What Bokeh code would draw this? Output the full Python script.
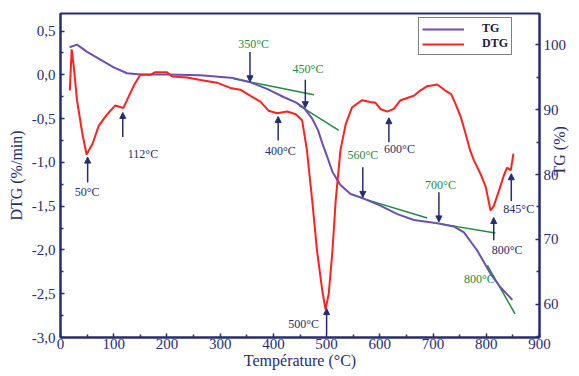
import math
from bokeh.plotting import figure
from bokeh.models import (Range1d, LinearAxis, FixedTicker, ColumnDataSource, Arrow,
                          NormalHead, Legend, LegendItem)
from bokeh.core.properties import value
from bokeh.embed import file_html
from bokeh.resources import INLINE

# ---------------- data ----------------
tg_temp = [17, 31, 50, 75, 100, 125, 150, 200, 263, 325, 357, 388, 420, 442, 457, 473,
           484, 492, 500, 511, 526, 545, 570, 601, 633, 664, 708, 739, 758, 783, 808, 827, 849]
tg_val = [99.6, 100.0, 98.9, 97.7, 96.5, 95.6, 95.4, 95.4, 95.3, 94.85, 94.2, 93.2, 91.9, 91.1,
          90.3, 88.6, 86.8, 84.8, 83.0, 80.4, 78.4, 77.0, 76.3, 75.2, 73.9, 73.0, 72.5, 72.0,
          71.1, 68.3, 64.7, 62.6, 60.7]

dtg_temp = [17.5, 21, 25, 31, 41, 49, 60, 72, 88, 103, 118, 128, 138, 150, 169, 178, 200, 210,
            238, 263, 294, 319, 338, 357, 376, 391, 407, 426, 442, 454, 463, 473, 482, 492, 498,
            504, 511, 517, 526, 536, 548, 567, 582, 592, 601, 614, 626, 639, 664, 676, 689, 708,
            723, 734, 742, 752, 761, 770, 777, 789, 799, 808, 814, 824, 833, 839, 846, 851]
dtg_val = [-0.18, 0.29, 0.09, -0.29, -0.67, -0.91, -0.79, -0.58, -0.45, -0.35, -0.38, -0.25,
           -0.12, 0.0, 0.0, 0.03, 0.03, -0.02, -0.03, -0.06, -0.09, -0.15, -0.17, -0.24, -0.31,
           -0.41, -0.44, -0.42, -0.45, -0.52, -0.86, -1.44, -2.01, -2.47, -2.68, -2.50, -2.01,
           -1.44, -0.86, -0.56, -0.37, -0.29, -0.31, -0.32, -0.39, -0.42, -0.39, -0.29, -0.24,
           -0.18, -0.13, -0.11, -0.18, -0.22, -0.33, -0.48, -0.67, -0.87, -0.98, -1.13, -1.28,
           -1.55, -1.50, -1.32, -1.15, -1.06, -1.09, -0.90]

# tangent lines on the TG curve (TG axis units)
tan_x0 = [325, 448, 564, 714, 802]
tan_x1 = [476, 523, 689, 817, 854]
tan_y0 = [94.76, 90.65, 76.4, 72.4, 66.0]
tan_y1 = [92.30, 86.8, 73.3, 71.0, 58.55]

# annotation labels (DTG axis units)
lab_text = ["50°C", "112°C", "350°C", "450°C", "400°C", "600°C", "560°C", "700°C",
            "800°C", "845°C", "800°C", "500°C"]
lab_x = [50, 155, 363, 465, 413, 637, 568, 714, 839, 861, 787, 457]
lab_y = [-1.34, -0.90, 0.356, 0.07, -0.865, -0.845, -0.92, -1.26, -2.0, -1.53, -2.33, -2.85]
lab_kind = ["dtg", "dtg", "tg", "tg", "dtg", "dtg", "tg", "tg", "dtg", "dtg", "tg", "dtg"]

# arrows (DTG axis units)
arr_x = [51, 117, 356, 460, 409, 617, 568, 711, 814, 847, 500]
arr_y0 = [-1.23, -0.71, 0.26, -0.056, -0.75, -0.77, -1.056, -1.34, -1.89, -1.44, -2.96]
arr_y1 = [-0.94, -0.43, -0.08, -0.376, -0.476, -0.49, -1.40, -1.68, -1.63, -1.13, -2.67]

x_ticks = [0, 100, 200, 300, 400, 500, 600, 700, 800, 900]
x_minor = [50, 150, 250, 350, 450, 550, 650, 750, 850]
y_ticks = [-3.0, -2.5, -2.0, -1.5, -1.0, -0.5, 0.0, 0.5]
y_labels = ["-3,0", "-2,5", "-2,0", "-1,5", "-1,0", "-0,5", "0,0", "0,5"]
y_minor = [-2.75, -2.25, -1.75, -1.25, -0.75, -0.25, 0.25]
tg_ticks = [60, 70, 80, 90, 100]
tg_minor = [55, 65, 75, 85, 95]

# ---------------- style ----------------
NAVY = "#262d6e"
PURPLE = "#6a50b0"
RED = "#ff2020"
GREEN = "#1e8a3c"
FONT = "Liberation Serif"

p = figure(width=579, height=376, output_backend="svg", toolbar_location=None,
           x_range=Range1d(0, 900), y_range=Range1d(-3.0, 0.7),
           min_border_left=60, min_border_right=40, min_border_top=13, min_border_bottom=39)
p.extra_y_ranges = {"tg": Range1d(54.9, 104.8)}
p.grid.visible = False
p.outline_line_color = NAVY
p.outline_line_width = 2
p.background_fill_color = "white"
p.border_fill_color = "white"

p.xaxis.ticker = FixedTicker(ticks=x_ticks, minor_ticks=x_minor)
p.xaxis.axis_label = "Température (°C)"
p.yaxis.ticker = FixedTicker(ticks=y_ticks, minor_ticks=y_minor)
p.yaxis.major_label_overrides = {t: l for t, l in zip(y_ticks, y_labels)}
p.yaxis.axis_label = "DTG (%/min)"

right = LinearAxis(y_range_name="tg", axis_label="TG (%)",
                   ticker=FixedTicker(ticks=tg_ticks, minor_ticks=tg_minor))
p.add_layout(right, "right")

for ax in [p.xaxis[0], p.yaxis[0], right]:
    ax.axis_line_color = NAVY
    ax.axis_line_width = 2
    ax.major_tick_line_color = NAVY
    ax.minor_tick_line_color = NAVY
    ax.major_tick_line_width = 1.5
    ax.minor_tick_line_width = 1.5
    ax.major_tick_in = 4
    ax.major_tick_out = 0
    ax.minor_tick_in = 3
    ax.minor_tick_out = 0
    ax.major_label_text_font = FONT
    ax.major_label_text_font_size = "15px"
    ax.major_label_text_color = NAVY
    ax.axis_label_text_font = FONT
    ax.axis_label_text_font_size = "16px"
    ax.axis_label_text_font_style = "normal"
    ax.axis_label_text_color = NAVY
p.xaxis.major_label_standoff = 1
p.xaxis.axis_label_standoff = 0
p.yaxis[0].major_label_standoff = 5
p.yaxis[0].axis_label_standoff = 4
right.major_label_standoff = 4
right.axis_label_standoff = -10
right.axis_label_orientation = math.pi / 2

# ---------------- glyphs ----------------
tg_src = ColumnDataSource(dict(x=tg_temp, y=tg_val))
dtg_src = ColumnDataSource(dict(x=dtg_temp, y=dtg_val))
tan_src = ColumnDataSource(dict(x0=tan_x0, x1=tan_x1, y0=tan_y0, y1=tan_y1))

p.segment(x0="x0", y0="y0", x1="x1", y1="y1", source=tan_src, y_range_name="tg",
          line_color=GREEN, line_width=1.5)
tg_r = p.line("x", "y", source=tg_src, y_range_name="tg", line_color=PURPLE, line_width=2)
dtg_r = p.line("x", "y", source=dtg_src, line_color=RED, line_width=2)

arr_src = ColumnDataSource(dict(x=arr_x, y0=arr_y0, y1=arr_y1))
p.add_layout(Arrow(x_start="x", y_start="y0", x_end="x", y_end="y1", source=arr_src,
                   line_color=NAVY, line_width=1.5,
                   end=NormalHead(size=6, fill_color=NAVY, line_color=NAVY, line_width=1)))

lab_col = [GREEN if k == "tg" else NAVY for k in lab_kind]
lab_src = ColumnDataSource(dict(x=lab_x, y=lab_y, t=lab_text, c=lab_col))
p.text(x="x", y="y", text="t", source=lab_src, text_color="c", text_align="center",
       text_baseline="middle", text_font=value(FONT), text_font_size="12px")

legend = Legend(items=[LegendItem(label="TG", renderers=[tg_r]),
                       LegendItem(label="DTG", renderers=[dtg_r])],
                location=(358, 282))
legend.label_text_font = FONT
legend.label_text_font_style = "bold"
legend.label_text_font_size = "12px"
legend.label_text_color = "#1a1a40"
legend.border_line_color = "black"
legend.border_line_width = 1.5
legend.padding = 3
legend.spacing = 0
legend.margin = 0
legend.glyph_width = 42
legend.glyph_height = 12
legend.label_height = 12
legend.label_standoff = 18
legend.background_fill_alpha = 1
p.add_layout(legend)

open("out.html", "w").write(file_html(p, INLINE))
